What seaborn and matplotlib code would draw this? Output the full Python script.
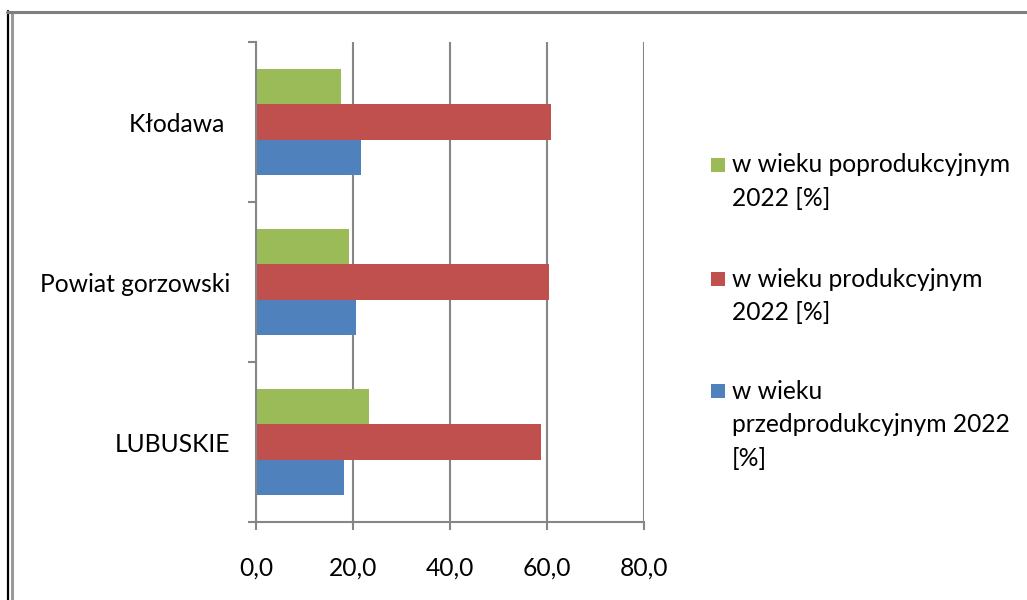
import matplotlib
matplotlib.use("Agg")
import matplotlib.pyplot as plt
from matplotlib.lines import Line2D
from matplotlib.patches import Rectangle
from matplotlib.ticker import FuncFormatter, FixedLocator
import pandas as pd
import seaborn as sns

# --- data ---
regions = ["Kłodawa ", "Powiat gorzowski", "LUBUSKIE"]
series = [
    "w wieku poprodukcyjnym 2022 [%]",
    "w wieku produkcyjnym 2022 [%]",
    "w wieku przedprodukcyjnym 2022 [%]",
]
poprodukcyjny = [17.6, 19.1, 23.2]
produkcyjny = [60.8, 60.3, 58.7]
przedprodukcyjny = [21.7, 20.6, 18.2]
legend_lines = [
    ["w wieku poprodukcyjnym", "2022 [%]"],
    ["w wieku produkcyjnym", "2022 [%]"],
    ["w wieku", "przedprodukcyjnym 2022", "[%]"],
]
colors = ["#9BBB59", "#C0504D", "#4F81BD"]
x_ticks = [0, 20, 40, 60, 80]

df = pd.DataFrame({
    "Region": regions * 3,
    "Seria": [series[0]] * 3 + [series[1]] * 3 + [series[2]] * 3,
    "Wartosc": poprodukcyjny + produkcyjny + przedprodukcyjny,
})

sns.set_theme(style="white")
plt.rcParams["font.family"] = ["Lato", "DejaVu Sans"]
FS = 17.7
GRID = "#868686"
W, H = 1027, 600

fig = plt.figure(figsize=(W / 100, H / 100), dpi=100)
ax = fig.add_axes([256 / W, 1 - 522 / H, (644.3 - 256) / W, 480 / H])

sns.barplot(
    data=df, x="Wartosc", y="Region", hue="Seria",
    order=regions, hue_order=series, palette=colors, saturation=1,
    orient="h", width=0.66, linewidth=0, legend=False, ax=ax,
)

ax.set_xlim(0, 80)
ax.set_ylim(2.5, -0.5)
ax.set_xticks(x_ticks)
ax.xaxis.set_major_formatter(FuncFormatter(lambda v, p: f"{v:.1f}".replace(".", ",")))
ax.set_xlabel("")
ax.set_ylabel("")
ax.grid(axis="x", color=GRID, linewidth=1.5)
ax.set_axisbelow(True)

for side in ("top", "right"):
    ax.spines[side].set_visible(False)
for side in ("left", "bottom"):
    ax.spines[side].set_color(GRID)
    ax.spines[side].set_linewidth(1.5)

ax.tick_params(axis="x", which="major", direction="out", length=6, width=1.5,
               color=GRID, labelsize=FS, labelcolor="black", pad=19, bottom=True)
ax.tick_params(axis="y", which="major", length=0, labelsize=FS, labelcolor="black", pad=18.5)
ax.yaxis.set_minor_locator(FixedLocator([-0.5, 0.5, 1.5, 2.5]))
ax.tick_params(axis="y", which="minor", direction="out", length=6, width=1.5,
               color=GRID, left=True)
ax.set_yticklabels(regions)

# legend, drawn by hand so the swatch sits on the first text line
sq = 14
swatch_y = [165, 279, 391]
first_base = [172, 287, 399]
step = 33.5
for lines, col, yc, yb in zip(legend_lines, colors, swatch_y, first_base):
    fig.add_artist(Rectangle((711 / W, 1 - (yc + sq / 2) / H), sq / W, sq / H,
                             transform=fig.transFigure, facecolor=col, edgecolor="none"))
    for i, line in enumerate(lines):
        fig.text(732 / W, 1 - (yb + i * step) / H, line, fontsize=FS,
                 va="baseline", ha="left", color="black")

# outer frame
fig.add_artist(Line2D([8 / W, 8 / W], [1 - 11 / H, 0], transform=fig.transFigure,
                      color="black", linewidth=1.6))
fig.add_artist(Line2D([12 / W, 12 / W], [1 - 12 / H, 0], transform=fig.transFigure,
                      color="#9a9a9a", linewidth=2.2))
fig.add_artist(Line2D([7 / W, 1], [1 - 12 / H, 1 - 12 / H], transform=fig.transFigure,
                      color="#7f7f7f", linewidth=2.2))

fig.savefig("out.png", dpi=100)
